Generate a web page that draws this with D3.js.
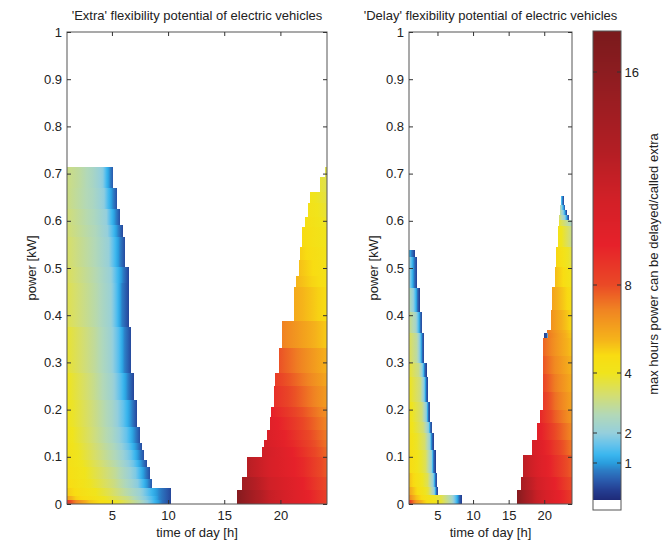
<!DOCTYPE html>
<html><head><meta charset="utf-8">
<script src="https://cdn.jsdelivr.net/npm/d3@7"></script>
<style>
body{margin:0;background:#fff;}
svg{display:block;font-family:"Liberation Sans",Arial,Helvetica,sans-serif;}
</style></head><body>
<svg id="chart" width="662" height="541"></svg>
<script>
// ---------- data ----------
const hourTicks = [5, 10, 15, 20];
const powerTicks = [0, 0.1, 0.2, 0.3, 0.4, 0.5, 0.6, 0.7, 0.8, 0.9, 1];
const colorbarTicks = [1, 2, 4, 8, 16];
const panelTitles = ["'Extra' flexibility potential of electric vehicles", "'Delay' flexibility potential of electric vehicles"];
const xLabel = "time of day [h]";
const yLabel = "power [kW]";
const colorbarLabel = "max hours power can be delayed/called extra";

// colormap: value (hours) -> colour
const cmapValues = [0, 0.27, 0.54, 0.81, 1, 1.27, 1.6, 2, 2.6, 3.27, 4, 4.8, 5.5, 6.86, 8, 9.5, 11.2, 13.1, 16, 17.6];
const cmapColors = ['#1e2a78','#243e92','#2a5cae','#2c7ec6','#2a9ede','#3ab6ee','#64c2ec','#95cfdc','#b2d8b8','#d4de70','#f0e41c','#f8dc12','#f5b41a','#f08422','#ea4a26','#e6212a','#d22027','#b21e24','#8c1c20','#7a1a1c'];
// colour bar axis: value -> position along the bar
const colorbarValues = [0, 1, 2, 4, 8, 16, 17.6];

// rows of each region: [power low, power high, start hour, end hour, [[hour, hours-value], ...]]
const extraMorning = [
  [0.669,0.713,1,5.14,[[1,3.1],[2.2,2.8],[3.3,2.4],[4.2,1.9],[4.5,1.35],[4.8,0.9],[5.14,0.45]]],
  [0.626,0.669,1,5.44,[[1,3.1],[3.3,2.45],[4.3,1.95],[4.65,1.4],[5.05,0.9],[5.44,0.45]]],
  [0.591,0.626,1,5.74,[[1,3.2],[3.4,2.5],[4.5,2.0],[4.9,1.4],[5.3,0.9],[5.74,0.4]]],
  [0.566,0.591,1,5.95,[[1,3.25],[3.5,2.55],[4.6,2.0],[5.1,1.4],[5.5,0.9],[5.95,0.4]]],
  [0.503,0.566,1,6.19,[[1,3.35],[3.5,2.6],[4.7,2.05],[5.2,1.45],[5.7,0.85],[6.19,0.35]]],
  [0.468,0.503,1,6.54,[[1,3.45],[3.6,2.65],[4.9,2.05],[5.4,1.45],[6.0,0.8],[6.54,0.3]]],
  [0.376,0.468,1,6.50,[[1,3.55],[3.6,2.7],[4.9,2.1],[5.4,1.5],[5.9,0.8],[6.5,0.35]]],
  [0.277,0.376,1,6.72,[[1,3.8],[3.5,2.85],[4.9,2.15],[5.6,1.5],[6.1,0.85],[6.72,0.35]]],
  [0.220,0.277,1,6.93,[[1,4.0],[3.4,3.0],[5.0,2.2],[5.8,1.5],[6.4,0.85],[6.93,0.35]]],
  [0.164,0.220,1,7.23,[[1,4.1],[3.2,3.2],[5.0,2.35],[6.0,1.6],[6.7,0.9],[7.23,0.35]]],
  [0.129,0.164,1,7.52,[[1,4.2],[3.0,3.35],[5.0,2.45],[6.3,1.6],[7.0,0.9],[7.52,0.4]]],
  [0.114,0.129,1,7.68,[[1,4.3],[3.0,3.45],[5.2,2.5],[6.5,1.6],[7.2,0.9],[7.68,0.4]]],
  [0.093,0.114,1,7.88,[[1,4.4],[3.0,3.55],[5.3,2.55],[6.7,1.65],[7.4,0.9],[7.88,0.4]]],
  [0.079,0.093,1,8.12,[[1,4.5],[2.8,3.8],[5.3,2.7],[6.9,1.7],[7.6,0.95],[8.12,0.4]]],
  [0.054,0.079,1,8.35,[[1,4.6],[2.6,4.0],[5.3,2.9],[7.1,1.8],[7.8,1.0],[8.35,0.45]]],
  [0.033,0.054,1,8.57,[[1,4.8],[2.4,4.2],[5.2,3.1],[7.3,1.9],[8.0,1.1],[8.57,0.5]]],
  [0.018,0.033,1,10.26,[[1,5.1],[2.3,4.5],[4.8,3.5],[7.5,2.1],[8.5,1.3],[9.2,0.85],[10.26,0.35]]],
  [0.008,0.018,1,10.26,[[1,6.0],[1.8,5.0],[3.5,4.3],[6.5,3.0],[8.5,1.5],[9.2,0.85],[10.26,0.35]]],
  [0,0.008,1,10.26,[[1,8.8],[1.8,6.8],[3.0,5.2],[4.8,4.3],[7.5,2.6],[8.8,1.3],[9.5,0.7],[10.26,0.3]]]
];
const extraEvening = [
  [0.693,0.713,23.93,24.15,[[23.93,3.57],[24.15,3.5]]],
  [0.662,0.693,23.56,24.15,[[23.56,3.75],[24.15,3.56]]],
  [0.637,0.662,22.67,24.15,[[22.67,4.15],[24.15,3.65]]],
  [0.609,0.637,22.43,24.15,[[22.43,4.35],[24.15,3.75]]],
  [0.587,0.609,22.23,24.15,[[22.23,4.54],[24.15,3.86]]],
  [0.545,0.587,21.94,24.15,[[21.94,4.82],[24.15,4.0]]],
  [0.517,0.545,21.78,24.15,[[21.78,5.01],[24.15,4.15]]],
  [0.482,0.517,21.63,24.15,[[21.63,5.31],[24.15,4.3]]],
  [0.460,0.482,21.43,24.15,[[21.43,5.49],[24.15,4.4]]],
  [0.388,0.460,21.19,24.15,[[21.19,5.8],[24.15,4.7]]],
  [0.330,0.388,20.12,24.15,[[20.12,6.91],[22,6.07],[24.15,5.1]]],
  [0.277,0.330,19.85,24.15,[[19.85,7.88],[22,6.74],[24.15,5.6]]],
  [0.249,0.277,19.56,24.15,[[19.56,8.47],[22,7.1],[24.15,5.9]]],
  [0.206,0.249,19.40,24.15,[[19.4,8.96],[22,7.45],[24.15,6.2]]],
  [0.185,0.206,19.20,24.15,[[19.2,9.52],[22,7.84],[24.15,6.55]]],
  [0.157,0.185,19.05,24.15,[[19.05,10.0],[22,8.15],[24.15,6.8]]],
  [0.136,0.157,18.82,24.15,[[18.82,10.5],[22,8.45],[24.15,7.05]]],
  [0.121,0.136,18.58,24.15,[[18.58,10.93],[22,8.64],[24.15,7.2]]],
  [0.100,0.121,18.37,24.15,[[18.37,11.45],[22,8.9],[24.15,7.4]]],
  [0.058,0.100,17.05,24.15,[[17.05,12.8],[19,10.9],[22,9.2],[24.15,7.7]]],
  [0.030,0.058,16.60,24.15,[[16.6,14.5],[19,11.4],[22,9.5],[24.15,8.0]]],
  [0,0.030,16.17,24.15,[[16.17,16.5],[17.5,14.2],[19,12.0],[22,9.8],[24.15,8.4]]]
];
const delayMorning = [
  [0.524,0.538,1,1.80,[[1,1.3],[1.35,0.8],[1.8,0.3]]],
  [0.457,0.524,1,2.10,[[1,2.1],[1.35,1.5],[1.7,0.8],[2.1,0.3]]],
  [0.407,0.457,1,2.50,[[1,2.7],[1.6,2.0],[1.95,1.3],[2.2,0.7],[2.5,0.25]]],
  [0.362,0.407,1,2.88,[[1,3.1],[1.9,2.4],[2.35,1.4],[2.6,0.7],[2.88,0.25]]],
  [0.298,0.362,1,3.15,[[1,3.5],[2.1,2.8],[2.6,1.6],[2.85,0.7],[3.15,0.25]]],
  [0.270,0.298,1,3.48,[[1,3.8],[2.4,3.0],[2.95,1.7],[3.2,0.7],[3.48,0.25]]],
  [0.217,0.270,1,3.70,[[1,4.0],[2.6,3.1],[3.15,1.8],[3.4,0.7],[3.7,0.25]]],
  [0.174,0.217,1,3.98,[[1,4.2],[2.8,3.2],[3.45,1.9],[3.7,0.7],[3.98,0.25]]],
  [0.150,0.174,1,4.28,[[1,4.3],[3.0,3.2],[3.75,1.9],[4.0,0.7],[4.28,0.25]]],
  [0.114,0.150,1,4.50,[[1,4.5],[3.2,3.3],[3.95,2.0],[4.2,0.7],[4.5,0.25]]],
  [0.065,0.114,1,4.74,[[1,4.8],[3.3,3.5],[4.15,2.1],[4.45,0.7],[4.74,0.25]]],
  [0.037,0.065,1,4.97,[[1,5.3],[2.2,4.4],[3.6,3.5],[4.4,2.0],[4.7,0.7],[4.97,0.25]]],
  [0.020,0.037,1,5.10,[[1,5.9],[2.2,4.7],[3.7,3.7],[4.55,2.0],[4.82,0.7],[5.1,0.25]]],
  [0.008,0.020,1,8.40,[[1,6.8],[2.0,5.3],[3.5,4.3],[5.5,3.6],[7.0,2.4],[7.7,1.3],[8.1,0.6],[8.4,0.25]]],
  [0,0.008,1,8.40,[[1,8.8],[2.0,6.3],[3.5,4.7],[5.5,3.8],[7.0,2.5],[7.7,1.3],[8.1,0.6],[8.4,0.25]]]
];
const delayEvening = [
  [0.634,0.652,22.30,22.77,[[22.3,2.0],[22.5,1.0],[22.77,0.3]]],
  [0.623,0.634,22.25,22.96,[[22.25,2.6],[22.6,1.4],[22.96,0.3]]],
  [0.613,0.623,22.17,23.19,[[22.17,3.0],[22.7,1.8],[22.95,0.9],[23.19,0.3]]],
  [0.602,0.613,22.10,23.47,[[22.1,3.3],[22.9,2.0],[23.2,0.9],[23.47,0.3]]],
  [0.588,0.602,22.03,23.90,[[22.03,3.8],[23.9,2.4]]],
  [0.545,0.588,21.94,23.90,[[21.94,4.3],[23.9,3.0]]],
  [0.503,0.545,21.71,23.90,[[21.71,4.9],[23.9,3.6]]],
  [0.460,0.503,21.47,23.90,[[21.47,5.4],[23.9,4.1]]],
  [0.411,0.460,21.15,23.90,[[21.15,5.95],[23.9,4.5]]],
  [0.369,0.411,20.92,23.90,[[20.92,6.5],[23.9,4.8]]],
  [0.362,0.369,20.32,23.90,[[20.32,7.1],[23.9,5.0]]],
  [0.351,0.362,19.90,23.90,[[19.9,0.3],[20.45,0.5],[20.5,7.1],[23.9,5.1]]],
  [0.313,0.351,19.84,23.90,[[19.84,7.5],[21.5,6.45],[23.9,5.25]]],
  [0.275,0.313,19.84,23.90,[[19.84,7.8],[21.5,6.7],[23.9,5.5]]],
  [0.237,0.275,19.84,23.90,[[19.84,8.2],[21.5,7.0],[23.9,5.75]]],
  [0.199,0.237,19.84,23.90,[[19.84,8.6],[21.5,7.3],[23.9,6.0]]],
  [0.171,0.199,19.38,23.90,[[19.38,9.3],[21.5,7.65],[23.9,6.3]]],
  [0.136,0.171,18.92,23.90,[[18.92,10.0],[21.5,8.1],[23.9,6.7]]],
  [0.104,0.136,18.22,23.90,[[18.22,11.0],[21.5,8.6],[23.9,7.1]]],
  [0.058,0.104,17.05,23.90,[[17.05,12.5],[19,10.6],[21.5,9.0],[23.9,7.6]]],
  [0.030,0.058,16.69,23.90,[[16.69,14.0],[19,11.2],[21.5,9.5],[23.9,8.0]]],
  [0,0.030,16.22,23.90,[[16.22,16.5],[17.5,14.0],[19,11.8],[21.5,10.0],[23.9,8.5]]]
];

// ---------- drawing ----------
const svg = d3.select('#chart');
const defs = svg.append('defs');
const cmap = d3.scaleLinear().domain(cmapValues).range(cmapColors).interpolate(d3.interpolateRgb).clamp(true);
const y = d3.scaleLinear().domain([0, 1]).range([504, 32]);
const panels = [
  {x: d3.scaleLinear().domain([1, 24.15]).range([67, 327]), regions: [extraMorning, extraEvening], title: panelTitles[0], id: 'ex'},
  {x: d3.scaleLinear().domain([1, 23.9]).range([409, 572]), regions: [delayMorning, delayEvening], title: panelTitles[1], id: 'de'}
];
const ink = '#222';

panels.forEach(pn => {
  const x = pn.x;
  const [x0, x1] = x.range();
  const g = svg.append('g');
  pn.regions.forEach((rows, ri) => {
    rows.forEach((r, i) => {
      const [p0, p1, t0, t1, stops] = r;
      const grad = defs.append('linearGradient')
        .attr('id', `${pn.id}${ri}_${i}`)
        .attr('gradientUnits', 'userSpaceOnUse')
        .attr('x1', x(t0)).attr('x2', x(t1)).attr('y1', 0).attr('y2', 0);
      const add = (t, v) => grad.append('stop')
        .attr('offset', Math.max(0, Math.min(1, (t - t0) / (t1 - t0))))
        .attr('stop-color', cmap(v));
      stops.forEach(([t, v], k) => {
        if (k > 0) {
          const [tp, vp] = stops[k - 1];
          for (let s = 1; s < 4; s++) { const f = s / 4; add(tp + (t - tp) * f, vp + (v - vp) * f); }
        }
        add(t, v);
      });
    });
    g.selectAll(null).data(rows).join('rect')
      .attr('x', d => x(d[2]))
      .attr('y', d => y(d[1]))
      .attr('width', d => x(d[3]) - x(d[2]))
      .attr('height', d => y(d[0]) - y(d[1]))
      .attr('shape-rendering', 'crispEdges')
      .attr('fill', (d, i) => `url(#${pn.id}${ri}_${i})`);
  });

  // box
  svg.append('rect').attr('x', x0).attr('y', 32).attr('width', x1 - x0).attr('height', 472)
    .attr('fill', 'none').attr('stroke', '#555').attr('stroke-width', 1);

  const style = sel => {
    sel.select('.domain').remove();
    sel.selectAll('.tick line').attr('stroke', '#333');
    sel.selectAll('.tick text').attr('fill', ink).attr('font-size', 13).attr('font-family', null);
  };
  svg.append('g').attr('transform', 'translate(0,504)')
    .call(d3.axisBottom(x).tickValues(hourTicks).tickSizeInner(-4).tickSizeOuter(0).tickPadding(7)).call(style);
  svg.append('g').attr('transform', 'translate(0,32)')
    .call(d3.axisTop(x).tickValues(hourTicks).tickSizeInner(-4).tickSizeOuter(0).tickFormat('')).call(style);
  svg.append('g').attr('transform', `translate(${x0},0)`)
    .call(d3.axisLeft(y).tickValues(powerTicks).tickSizeInner(-4).tickSizeOuter(0).tickPadding(5).tickFormat(d3.format('~g'))).call(style);
  svg.append('g').attr('transform', `translate(${x1},0)`)
    .call(d3.axisRight(y).tickValues(powerTicks).tickSizeInner(-4).tickSizeOuter(0).tickFormat('')).call(style);

  const cx = (x0 + x1) / 2;
  svg.append('text').attr('x', cx).attr('y', 19.5).attr('text-anchor', 'middle')
    .attr('font-size', 13).attr('fill', ink).text(pn.title);
  svg.append('text').attr('x', cx).attr('y', 536.5).attr('text-anchor', 'middle')
    .attr('font-size', 13).attr('fill', ink).text(xLabel);
  svg.append('text').attr('transform', `translate(${x0 - 31.5},268) rotate(-90)`).attr('text-anchor', 'middle')
    .attr('font-size', 13).attr('fill', ink).text(yLabel);
});

// ---------- colour bar ----------
const cb = d3.scaleLinear().domain(colorbarValues).range([500, 463, 433, 373, 285, 72, 31]);
const cbX0 = 593, cbX1 = 621;
const cbRows = d3.range(31, 500);
svg.append('g').selectAll('rect').data(cbRows).join('rect')
  .attr('x', cbX0).attr('y', d => d).attr('width', cbX1 - cbX0).attr('height', 1.2)
  .attr('shape-rendering', 'crispEdges')
  .attr('fill', d => cmap(cb.invert(d + 0.5)));
svg.append('rect').attr('x', cbX0).attr('y', 500).attr('width', cbX1 - cbX0).attr('height', 10).attr('fill', '#fff');
svg.append('rect').attr('x', cbX0).attr('y', 31).attr('width', cbX1 - cbX0).attr('height', 479)
  .attr('fill', 'none').attr('stroke', '#555');
const cbt = svg.append('g').selectAll('g').data(colorbarTicks).join('g')
  .attr('transform', d => `translate(0,${cb(d)})`);
cbt.append('line').attr('x1', cbX0).attr('x2', cbX0 + 4).attr('stroke', '#333');
cbt.append('line').attr('x1', cbX1 - 4).attr('x2', cbX1).attr('stroke', '#333');
cbt.append('text').attr('x', cbX1 + 3.5).attr('dy', '0.35em').attr('font-size', 13).attr('fill', ink).text(d => d);
svg.append('text').attr('transform', 'translate(658,264) rotate(-90)').attr('text-anchor', 'middle')
  .attr('font-size', 13).attr('fill', ink).text(colorbarLabel);
</script>
</body></html>
